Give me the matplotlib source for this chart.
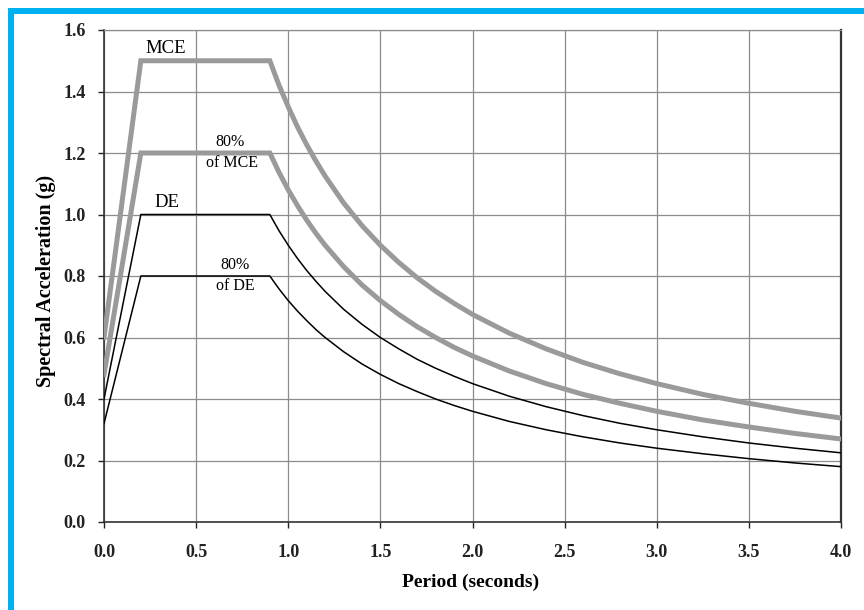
import matplotlib
matplotlib.use("Agg")
import matplotlib.pyplot as plt
from matplotlib.patches import Rectangle

# Design response spectra (g) sampled at the periods below
period = [0.0, 0.2, 0.9, 0.95, 1.0, 1.05, 1.1, 1.15, 1.2, 1.3, 1.4, 1.5, 1.6,
          1.7, 1.8, 1.9, 2.0, 2.2, 2.4, 2.6, 2.8, 3.0, 3.25, 3.5, 3.75, 4.0]
mce = [0.60, 1.50, 1.50, 1.42, 1.35, 1.285, 1.227, 1.174, 1.125, 1.038, 0.964, 0.90, 0.844,
       0.794, 0.75, 0.711, 0.675, 0.614, 0.563, 0.519, 0.482, 0.45, 0.415, 0.386, 0.36, 0.338]
mce_80 = [0.48, 1.20, 1.20, 1.137, 1.08, 1.029, 0.982, 0.939, 0.90, 0.831, 0.771, 0.72, 0.675,
          0.635, 0.60, 0.568, 0.54, 0.491, 0.45, 0.415, 0.386, 0.36, 0.332, 0.309, 0.288, 0.27]
de = [0.40, 1.00, 1.00, 0.947, 0.90, 0.857, 0.818, 0.783, 0.75, 0.692, 0.643, 0.60, 0.563,
      0.529, 0.50, 0.474, 0.45, 0.409, 0.375, 0.346, 0.321, 0.30, 0.277, 0.257, 0.24, 0.225]
de_80 = [0.32, 0.80, 0.80, 0.758, 0.72, 0.686, 0.655, 0.626, 0.60, 0.554, 0.514, 0.48, 0.45,
         0.424, 0.40, 0.379, 0.36, 0.327, 0.30, 0.277, 0.257, 0.24, 0.222, 0.206, 0.192, 0.18]

x_ticks = [0.0, 0.5, 1.0, 1.5, 2.0, 2.5, 3.0, 3.5, 4.0]
y_ticks = [0.0, 0.2, 0.4, 0.6, 0.8, 1.0, 1.2, 1.4, 1.6]

plt.rcParams['font.family'] = ['Liberation Serif', 'DejaVu Serif']

fig = plt.figure(figsize=(8.64, 6.10), dpi=100)
ax = fig.add_axes([104 / 864, 88 / 610, 737 / 864, 492 / 610])

# cyan frame along the top and left edge
frame = '#00b0f0'
fig.add_artist(Rectangle((8 / 864, 596 / 610), 856 / 864, 6 / 610,
                         transform=fig.transFigure, color=frame, lw=0))
fig.add_artist(Rectangle((8 / 864, 0), 6 / 864, 602 / 610,
                         transform=fig.transFigure, color=frame, lw=0))

gray = '#9a9a9a'
ax.plot(period, mce, color=gray, lw=3.6, solid_joinstyle='miter', zorder=3)
ax.plot(period, mce_80, color=gray, lw=3.6, solid_joinstyle='miter', zorder=3)
ax.plot(period, de, color='black', lw=1.1, zorder=4)
ax.plot(period, de_80, color='black', lw=1.1, zorder=4)

ax.text(0.337, 1.512, 'MCE', ha='center', va='bottom', fontsize=13.5)
ax.text(0.685, 1.236, '80%', ha='center', va='center', fontsize=11.5)
ax.text(0.695, 1.167, 'of MCE', ha='center', va='center', fontsize=11.5)
ax.text(0.343, 1.01, 'DE', ha='center', va='bottom', fontsize=13.5)
ax.text(0.71, 0.836, '80%', ha='center', va='center', fontsize=11.5)
ax.text(0.71, 0.768, 'of DE', ha='center', va='center', fontsize=11.5)

ax.set_xlim(0, 4)
ax.set_ylim(0, 1.6)
ax.set_xticks(x_ticks)
ax.set_yticks(y_ticks)
ax.set_xticklabels([f'{v:.1f}' for v in x_ticks], fontweight='bold', fontsize=13)
ax.set_yticklabels([f'{v:.1f}' for v in y_ticks], fontweight='bold', fontsize=13)
ax.tick_params(direction='out', length=4, width=1, pad=9, colors='#222222')
ax.tick_params(axis='x', pad=12)

ax.grid(True, color='#8c8c8c', lw=0.9, zorder=1)
ax.set_axisbelow(True)
for side in ['left', 'bottom']:
    ax.spines[side].set_color('#333333')
    ax.spines[side].set_linewidth(1.2)
ax.spines['right'].set_color('#333333')
ax.spines['right'].set_linewidth(1.6)
ax.spines['top'].set_color('#8c8c8c')
ax.spines['top'].set_linewidth(0.9)

ax.set_xlabel('Period (seconds)', fontweight='bold', fontsize=14)
ax.set_ylabel('Spectral Acceleration (g)', fontweight='bold', fontsize=14.5)
ax.xaxis.set_label_coords(0.498, -0.106)
ax.yaxis.set_label_coords(-0.065, 0.49)

fig.savefig('out.png', dpi=100)
